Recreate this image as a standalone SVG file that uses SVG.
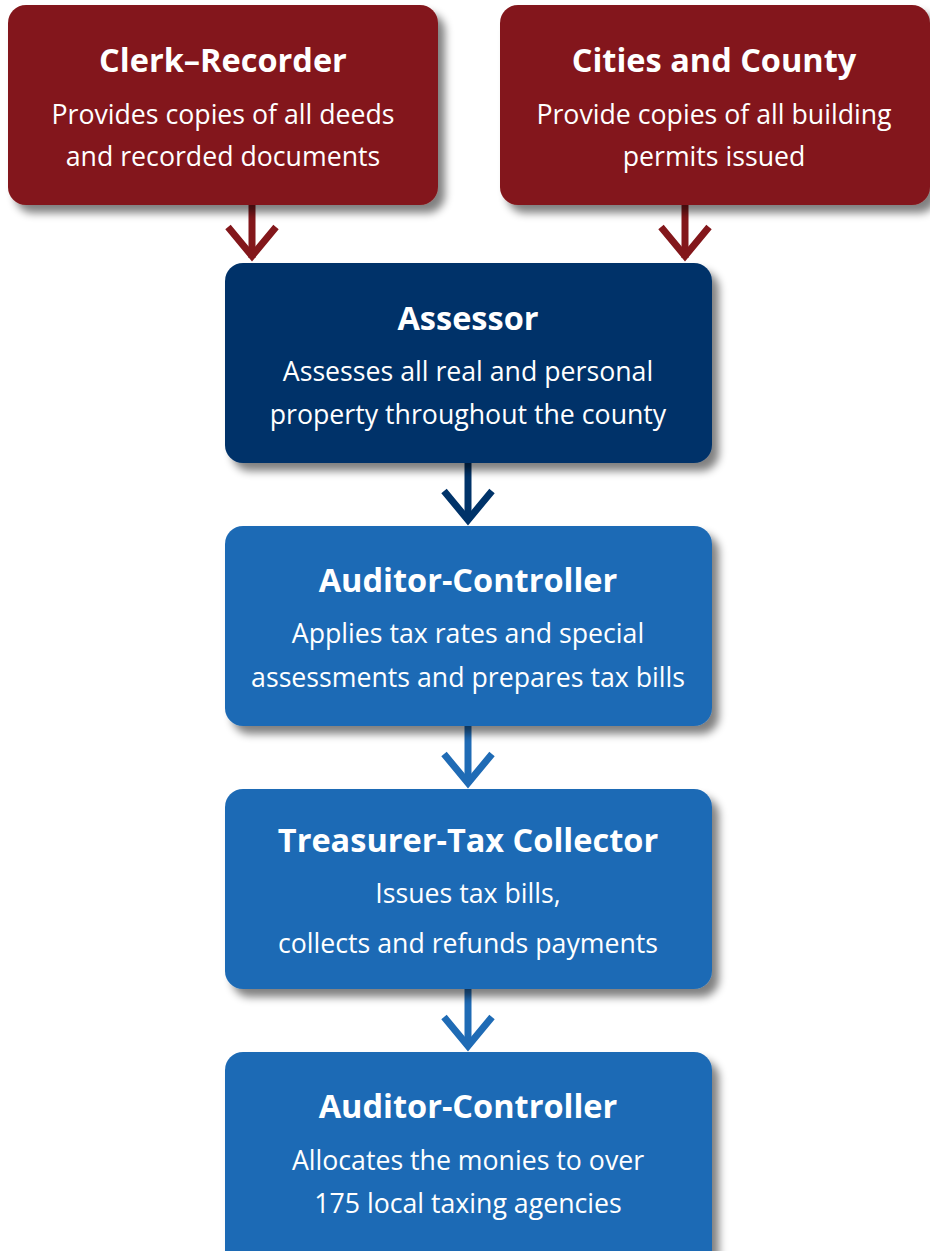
<svg xmlns="http://www.w3.org/2000/svg" width="930" height="1251" viewBox="0 0 930 1251">
  <defs>
    <filter id="shadow" x="-10%" y="-10%" width="130%" height="140%">
      <feGaussianBlur in="SourceAlpha" stdDeviation="4"/>
      <feOffset dx="7" dy="8" result="b"/>
      <feComponentTransfer><feFuncA type="linear" slope="0.5"/></feComponentTransfer>
      <feMerge><feMergeNode/><feMergeNode in="SourceGraphic"/></feMerge>
    </filter>
  </defs>
  <style>
    .red { fill: #83171b; }
    .navy { fill: #003369; }
    .blue { fill: #1f6bb5; }
    .title { font-family: "Open Sans", "Noto Sans", sans-serif; font-weight: 700; font-size: 32.5px; fill: #ffffff; text-anchor: middle; }
    .body { font-family: "Open Sans", "Noto Sans", sans-serif; font-size: 26.7px; fill: #ffffff; text-anchor: middle; }
    .link { stroke-width: 7; fill: none; }
    .head { stroke-width: 7; fill: none; stroke-linejoin: miter; stroke-miterlimit: 10; }
  </style>

  <!-- connectors -->
  <g id="connectors">
    <g stroke="#83171b">
      <line class="link" x1="252" y1="200" x2="252" y2="258"/>
      <polyline class="head" points="228,227 252,256 276,227"/>
      <line class="link" x1="685" y1="200" x2="685" y2="258"/>
      <polyline class="head" points="661,227 685,256 709,227"/>
    </g>
    <g stroke="#003369">
      <line class="link" x1="468" y1="460" x2="468" y2="521"/>
      <polyline class="head" points="444,491 468,520 492,491"/>
    </g>
    <g stroke="#1f6bb5">
      <line class="link" x1="468" y1="723" x2="468" y2="784"/>
      <polyline class="head" points="444,754 468,783 492,754"/>
      <line class="link" x1="468" y1="986" x2="468" y2="1047"/>
      <polyline class="head" points="444,1017 468,1046 492,1017"/>
    </g>
  </g>

  <g id="clerk-recorder">
    <rect class="red" x="8" y="5" width="430" height="200" rx="18" filter="url(#shadow)"/>
    <text class="title" x="223" y="72">Clerk–Recorder</text>
    <text class="body" x="223" y="124">Provides copies of all deeds</text>
    <text class="body" x="223" y="166">and recorded documents</text>
  </g>

  <g id="cities-county">
    <rect class="red" x="500" y="5" width="430" height="200" rx="18" filter="url(#shadow)"/>
    <text class="title" x="714" y="72">Cities and County</text>
    <text class="body" x="714" y="124">Provide copies of all building</text>
    <text class="body" x="714" y="166">permits issued</text>
  </g>

  <g id="assessor">
    <rect class="navy" x="225" y="263" width="487" height="200" rx="18" filter="url(#shadow)"/>
    <text class="title" x="468" y="330">Assessor</text>
    <text class="body" x="468" y="381">Assesses all real and personal</text>
    <text class="body" x="468" y="424">property throughout the county</text>
  </g>

  <g id="auditor-controller-1">
    <rect class="blue" x="225" y="526" width="487" height="200" rx="18" filter="url(#shadow)"/>
    <text class="title" x="468" y="592">Auditor-Controller</text>
    <text class="body" x="468" y="643">Applies tax rates and special</text>
    <text class="body" x="468" y="687">assessments and prepares tax bills</text>
  </g>

  <g id="treasurer-tax-collector">
    <rect class="blue" x="225" y="789" width="487" height="200" rx="18" filter="url(#shadow)"/>
    <text class="title" x="468" y="852">Treasurer-Tax Collector</text>
    <text class="body" x="468" y="903">Issues tax bills,</text>
    <text class="body" x="468" y="953">collects and refunds payments</text>
  </g>

  <g id="auditor-controller-2">
    <rect class="blue" x="225" y="1052" width="487" height="220" rx="18" filter="url(#shadow)"/>
    <text class="title" x="468" y="1118">Auditor-Controller</text>
    <text class="body" x="468" y="1170">Allocates the monies to over</text>
    <text class="body" x="468" y="1213">175 local taxing agencies</text>
  </g>
</svg>
